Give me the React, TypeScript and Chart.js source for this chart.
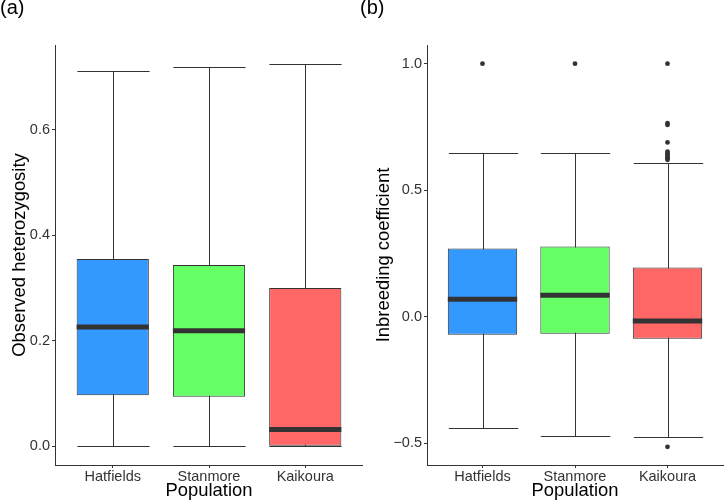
import React, { useEffect, useRef } from 'react';
import { Chart, registerables } from 'chart.js';

Chart.register(...registerables);
Chart.defaults.font.family = '"Liberation Sans", Arial, sans-serif';

// ---- Shared ----
const categories = ['Hatfields', 'Stanmore', 'Kaikoura'];
const boxColors = ['#3399FF', '#66FF66', '#FF6666'];
const xTitle = 'Population';

// ---- Panel (a): observed heterozygosity ----
const hetLower = [0.0, 0.0, 0.0];
const hetQ1 = [0.097, 0.094, 0.0];
const hetMedian = [0.226, 0.219, 0.032];
const hetQ3 = [0.355, 0.344, 0.3];
const hetUpper = [0.711, 0.719, 0.725];
const hetOutliers: number[][] = [[], [], []];
const hetTicks = [0.0, 0.2, 0.4, 0.6];

// ---- Panel (b): inbreeding coefficient ----
const fisLower = [-0.441, -0.473, -0.477];
const fisQ1 = [-0.071, -0.067, -0.087];
const fisMedian = [0.069, 0.085, -0.017];
const fisQ3 = [0.27, 0.278, 0.195];
const fisUpper = [0.648, 0.648, 0.609];
const fisOutliers: number[][] = [
  [1.0],
  [1.0],
  [1.0, 0.765, 0.758, 0.689, 0.652, 0.646, 0.64, 0.635, 0.63, 0.625, 0.62, -0.514],
];
const fisTicks = [-0.5, 0.0, 0.5, 1.0];

type Panel = {
  letter: string;
  yTitle: string;
  lower: number[];
  q1: number[];
  median: number[];
  q3: number[];
  upper: number[];
  outliers: number[][];
  ticks: number[];
  yMin: number;
  yMax: number;
  axisWidth: number;
  titlePad: number;
};

const fmt = (v: number) => (v < 0 ? '\u2212' : '') + Math.abs(v).toFixed(1);

function makePlugin(p: Panel) {
  return {
    id: 'boxExtras',
    beforeDatasetsDraw(chart: any) {
      const ctx = chart.ctx;
      const xs = chart.scales.x;
      const ys = chart.scales.y;
      const meta = chart.getDatasetMeta(0);
      ctx.save();
      ctx.strokeStyle = '#333333';
      ctx.lineWidth = 1;
      p.lower.forEach((lo, i) => {
        const x = Math.round(xs.getPixelForValue(i)) + 0.5;
        const w = meta.data[i].width;
        const yl = Math.round(ys.getPixelForValue(lo)) + 0.5;
        const yu = Math.round(ys.getPixelForValue(p.upper[i])) + 0.5;
        ctx.beginPath();
        ctx.moveTo(x, yu);
        ctx.lineTo(x, yl);
        ctx.moveTo(x - w / 2, yu);
        ctx.lineTo(x + w / 2, yu);
        ctx.moveTo(x - w / 2, yl);
        ctx.lineTo(x + w / 2, yl);
        ctx.stroke();
      });
      ctx.restore();
    },
    afterDatasetsDraw(chart: any) {
      const ctx = chart.ctx;
      const xs = chart.scales.x;
      const ys = chart.scales.y;
      const meta = chart.getDatasetMeta(0);
      ctx.save();
      ctx.strokeStyle = '#333333';
      ctx.lineWidth = 5;
      p.median.forEach((m, i) => {
        const x = xs.getPixelForValue(i);
        const w = meta.data[i].width;
        const y = ys.getPixelForValue(m);
        ctx.beginPath();
        ctx.moveTo(x - w / 2, y);
        ctx.lineTo(x + w / 2, y);
        ctx.stroke();
      });
      ctx.restore();
    },
    afterDraw(chart: any) {
      const ctx = chart.ctx;
      ctx.save();
      ctx.fillStyle = '#000000';
      ctx.font = '20px "Liberation Sans", Arial, sans-serif';
      ctx.textBaseline = 'alphabetic';
      ctx.textAlign = 'left';
      ctx.fillText(p.letter, 0, 14);
      ctx.restore();
    },
  };
}

function buildConfig(p: Panel): any {
  const outlierPoints: { x: number; y: number }[] = [];
  p.outliers.forEach((arr, i) => arr.forEach((v) => outlierPoints.push({ x: i, y: v })));
  return {
    type: 'bar',
    data: {
      datasets: [
        {
          type: 'bar',
          data: categories.map((_, i) => ({ x: i, y: [p.q1[i], p.q3[i]] })),
          backgroundColor: boxColors,
          borderColor: '#333333',
          borderWidth: 1,
          borderSkipped: false,
          barPercentage: 0.75,
          categoryPercentage: 1,
        },
        {
          type: 'scatter',
          data: outlierPoints,
          pointRadius: 2.4,
          pointBackgroundColor: '#333333',
          pointBorderWidth: 0,
          showLine: false,
        },
      ],
    },
    options: {
      responsive: false,
      animation: false,
      events: [],
      layout: { padding: { top: 45, left: 0, right: 0, bottom: 0 } },
      plugins: { legend: { display: false }, tooltip: { enabled: false }, title: { display: false } },
      scales: {
        x: {
          type: 'linear',
          min: -0.6,
          max: 2.6,
          offset: false,
          afterBuildTicks: (s: any) => {
            s.ticks = categories.map((_, i) => ({ value: i }));
          },
          afterFit: (s: any) => {
            s.height = 37;
          },
          ticks: {
            callback: (v: number) => categories[Math.round(v)],
            color: '#333333',
            font: { size: 14.5 },
            padding: 0,
            autoSkip: false,
            maxRotation: 0,
          },
          grid: {
            display: true,
            offset: false,
            drawOnChartArea: false,
            drawTicks: true,
            tickLength: 3,
            tickColor: '#333333',
          },
          border: { display: true, color: '#333333', width: 1 },
          title: {
            display: true,
            text: xTitle,
            color: '#000000',
            font: { size: 18.4 },
            padding: { top: 0, bottom: 0 },
          },
        },
        y: {
          type: 'linear',
          min: p.yMin,
          max: p.yMax,
          afterBuildTicks: (s: any) => {
            s.ticks = p.ticks.map((v) => ({ value: v }));
          },
          afterFit: (s: any) => {
            s.width = p.axisWidth;
          },
          ticks: {
            callback: (v: number) => fmt(v),
            color: '#333333',
            font: { size: 14.5 },
            padding: 2,
          },
          grid: {
            display: true,
            drawOnChartArea: false,
            drawTicks: true,
            tickLength: 3,
            tickColor: '#333333',
          },
          border: { display: true, color: '#333333', width: 1 },
          title: {
            display: true,
            text: p.yTitle,
            color: '#000000',
            font: { size: 18.4 },
            padding: { top: p.titlePad, bottom: 0 },
          },
        },
      },
    },
    plugins: [makePlugin(p)],
  };
}

const panelA: Panel = {
  letter: '(a)',
  yTitle: 'Observed heterozygosity',
  lower: hetLower,
  q1: hetQ1,
  median: hetMedian,
  q3: hetQ3,
  upper: hetUpper,
  outliers: hetOutliers,
  ticks: hetTicks,
  yMin: -0.0355,
  yMax: 0.761,
  axisWidth: 55,
  titlePad: 8.4,
};

const panelB: Panel = {
  letter: '(b)',
  yTitle: 'Inbreeding coefficient',
  lower: fisLower,
  q1: fisQ1,
  median: fisMedian,
  q3: fisQ3,
  upper: fisUpper,
  outliers: fisOutliers,
  ticks: fisTicks,
  yMin: -0.586,
  yMax: 1.074,
  axisWidth: 67,
  titlePad: 12.4,
};

function BoxPanel({ panel, left, width }: { panel: Panel; left: number; width: number }) {
  const ref = useRef<HTMLCanvasElement>(null);
  useEffect(() => {
    if (!ref.current) return;
    const chart = new Chart(ref.current, buildConfig(panel));
    return () => chart.destroy();
  }, [panel]);
  return (
    <canvas
      ref={ref}
      width={width}
      height={502}
      style={{ position: 'absolute', left, top: 0, width, height: 502, display: 'block' }}
    />
  );
}

export default function App() {
  return (
    <div style={{ position: 'absolute', left: 0, top: 0, width: 727, height: 502, background: '#ffffff' }}>
      <BoxPanel panel={panelA} left={0} width={363} />
      <BoxPanel panel={panelB} left={360} width={367} />
    </div>
  );
}
